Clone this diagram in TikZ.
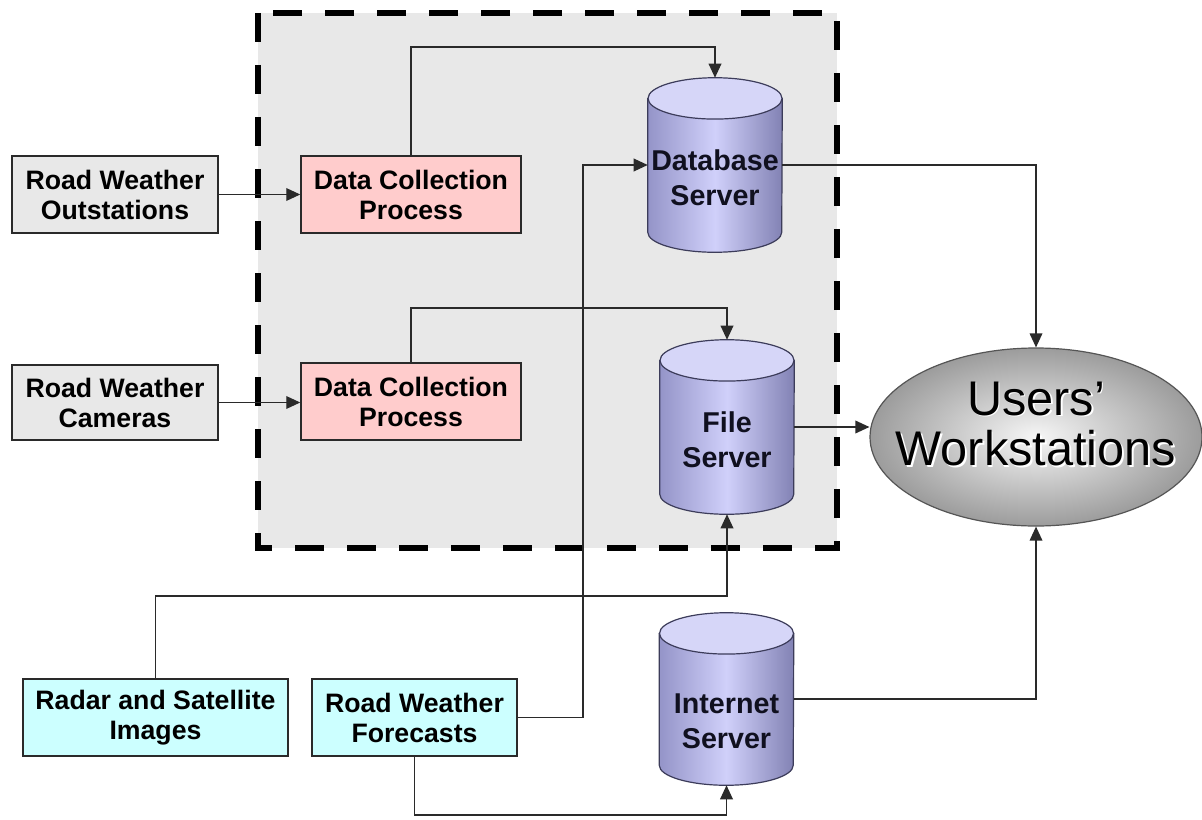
\documentclass[tikz,border=0pt]{standalone}
\usepackage{fontspec}
\setmainfont{Liberation Sans}
\usetikzlibrary{shapes.geometric,arrows.meta,calc}
\definecolor{boxgray}{HTML}{E8E8E8}
\definecolor{pinkfill}{HTML}{FFCCCC}
\definecolor{cyanfill}{HTML}{CCFFFF}
\definecolor{edge}{HTML}{2A2A2A}
\definecolor{cylTop}{HTML}{D6D6F8}
\definecolor{cylDark}{HTML}{9494C8}
\definecolor{cylDarkR}{HTML}{8282B4}
\definecolor{cylLight}{HTML}{D0D0FA}
\definecolor{cylEdge}{HTML}{3C3C5A}
\definecolor{cylText}{HTML}{10101F}
\definecolor{wsEdge}{HTML}{555555}
\definecolor{wsIn}{HTML}{F6F6F6}
\definecolor{wsOut}{HTML}{9C9C9C}

\newcommand\drawcyl[1]{%
  \shadedraw[left color=cylDark,right color=cylDarkR,middle color=cylLight,draw=cylEdge,line width=0.9pt]
    ([yshift=-15.5pt]#1.north west) -- ([yshift=15pt]#1.south west)
    arc[start angle=180,end angle=360,x radius=50.25pt,y radius=15pt]
    -- ([yshift=-15.5pt]#1.north east) -- cycle;
  \filldraw[fill=cylTop,draw=cylEdge,line width=0.9pt]
    ([yshift=-15.5pt]#1.north) ellipse [x radius=50.25pt,y radius=15.5pt];
}

\tikzset{
  boxtext/.style={font=\bfseries\fontsize{20}{22.5}\selectfont,align=center,draw=edge,line width=1.1pt,inner sep=0pt,minimum height=57.75pt},
  gbox/.style={boxtext,fill=boxgray,minimum width=154.5pt},
  pbox/.style={boxtext,fill=pinkfill,minimum width=165pt},
  cbox/.style={boxtext,fill=cyanfill},
  cylbox/.style={draw=none,inner sep=0pt,minimum width=100.5pt,minimum height=130.5pt},
  cyltext/.style={font=\bfseries\fontsize{21.5}{26}\selectfont,align=center,text=cylText,inner sep=0pt},
  conn/.style={draw=edge,line width=1pt},
  arr/.style={conn,-{Triangle[length=10.5pt,width=9.5pt]}},
  wsnode/.style={ellipse,draw=wsEdge,line width=0.9pt,inner color=wsIn,outer color=wsOut,minimum width=249pt,minimum height=133.5pt,inner sep=0pt},
  wstext/.style={font=\fontsize{36.5}{38}\selectfont,align=center,inner sep=0pt}
}

\begin{document}
\begin{tikzpicture}[x=0.75pt,y=-0.75pt]
\fill[white] (0,0) rectangle (1202,820);
\useasboundingbox (0,0) rectangle (1202,820);

% dashed region
\draw[line width=4.5pt,dash pattern=on 22pt off 17pt,fill=boxgray] (258,13) rectangle (837,548);

% boxes
\node[gbox] (out) at (115,194.5) {Road Weather\\Outstations};
\node[pbox] (dcp1) at (411,194.5) {Data Collection\\Process};
\node[gbox,minimum height=56.25pt] (cam) at (115,402.5) {Road Weather\\Cameras};
\node[pbox] (dcp2) at (411,401.5) {Data Collection\\Process};
\node[cbox,minimum width=198.75pt] (rad) at (155.5,717.5) {Radar and Satellite\\Images};
\node[cbox,minimum width=153.75pt] (fc) at (414.5,717.5) {Road Weather\\Forecasts};

% cylinders
\node[cylbox] (db) at (715,165) {};
\drawcyl{db}
\node[cyltext] (dbt) at (715,178) {Database\\Server};

\node[cylbox] (fs) at (727,427) {};
\drawcyl{fs}
\node[cyltext] (fst) at (727,440) {File\\Server};

\node[cylbox,minimum height=129pt] (is) at (726.5,699) {};
\drawcyl{is}
\node[cyltext] (ist) at (726.5,721) {Internet\\Server};

% users' workstations
\node[wsnode] (ws) at (1036,437) {};
\node[wstext,text=white] (wsshadow) at ([shift={(1.3pt,-1.3pt)}]1036,424) {Users’\\Workstations};
\node[wstext,text=black] (wst) at (1036,424) {Users’\\Workstations};

% helper coordinates
\coordinate (top1) at (0,47);
\coordinate (top2) at (0,308);
\coordinate (bot1) at (0,596);
\coordinate (bot2) at (0,815);
\coordinate (v1) at (583,0);

% connectors
\draw[arr] (out.east) -- (out.east -| dcp1.west);
\draw[arr] (cam.east) -- (cam.east -| dcp2.west);
\draw[arr] (dcp1.north) -- (dcp1.north |- top1) -| (db.north);
\draw[arr] (dcp2.north) -- (dcp2.north |- top2) -| (fs.north);
\draw[arr] (fc.east) -- (fc.east -| v1) -- (v1 |- db.west) -- (db.west);
\draw[arr] (db.east) -| (ws.north);
\draw[arr] (fs.east) -- (fs.east -| ws.west);
\draw[arr] (rad.north) -- (rad.north |- bot1) -| (fs.south);
\draw[arr] (fc.south) -- (fc.south |- bot2) -| (is.south);
\draw[arr] (is.east) -| (ws.south);
\end{tikzpicture}
\end{document}
